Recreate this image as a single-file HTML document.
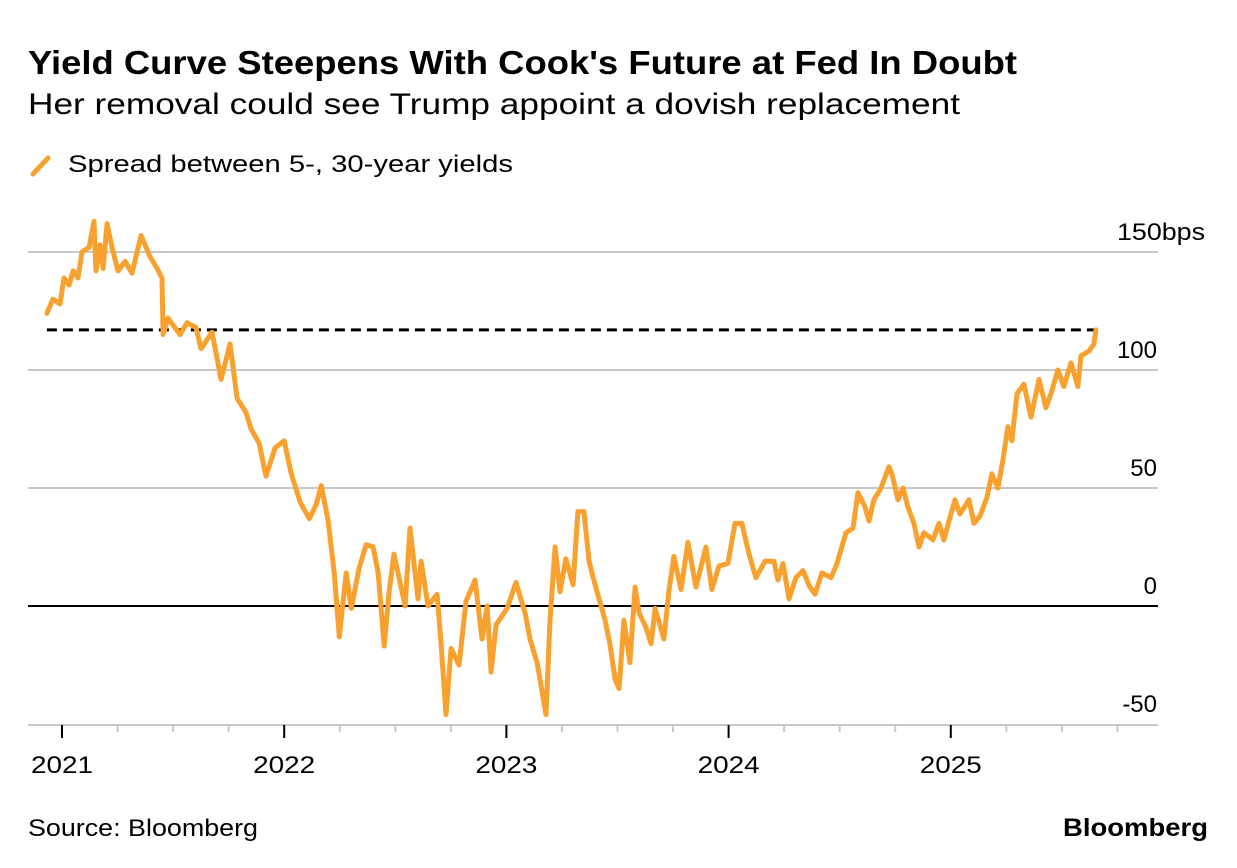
<!DOCTYPE html>
<html><head><meta charset="utf-8">
<style>
body{margin:0;background:#fff;font-family:"Liberation Sans",sans-serif;}
#wrap{position:relative;width:1237px;height:868px;overflow:hidden;}
</style></head>
<body>
<div id="wrap">
<svg id="chart" width="1237" height="868" xmlns="http://www.w3.org/2000/svg">
  <text x="28" y="74" font-size="33" font-weight="bold" fill="#000" textLength="989" lengthAdjust="spacingAndGlyphs">Yield Curve Steepens With Cook's Future at Fed In Doubt</text>
  <text x="28" y="114" font-size="30" fill="#000" textLength="932" lengthAdjust="spacingAndGlyphs">Her removal could see Trump appoint a dovish replacement</text>
  <line x1="33" y1="174" x2="48" y2="158" stroke="#f9a12e" stroke-width="5" stroke-linecap="round"/>
  <text x="68" y="172" font-size="24" fill="#000" textLength="445" lengthAdjust="spacingAndGlyphs">Spread between 5-, 30-year yields</text>
  <g id="grid"></g>
  <g id="axes"></g>
  <g id="series"></g>
  <text x="28" y="836" font-size="24" fill="#000" textLength="230" lengthAdjust="spacingAndGlyphs">Source: Bloomberg</text>
  <text x="1063" y="836" font-size="25" font-weight="bold" fill="#000" textLength="145" lengthAdjust="spacingAndGlyphs">Bloomberg</text>
</svg>
</div>
<script>
const yTicks = [150, 100, 50, 0, -50];
const yTickLabels = ["150bps", "100", "50", "0", "-50"];
const xYears = [2021, 2022, 2023, 2024, 2025];
const refLevel = 117;
const dates = [2020.932,2020.959,2020.991,2021.009,2021.032,2021.050,2021.072,2021.090,2021.122,2021.144,2021.153,2021.171,2021.185,2021.203,2021.225,2021.252,2021.284,2021.315,2021.356,2021.396,2021.428,2021.450,2021.455,2021.477,2021.531,2021.563,2021.603,2021.626,2021.675,2021.716,2021.756,2021.788,2021.828,2021.851,2021.887,2021.918,2021.959,2022.000,2022.032,2022.072,2022.113,2022.144,2022.167,2022.198,2022.225,2022.248,2022.279,2022.302,2022.337,2022.369,2022.400,2022.423,2022.450,2022.472,2022.494,2022.544,2022.566,2022.602,2022.616,2022.647,2022.688,2022.706,2022.728,2022.751,2022.787,2022.818,2022.859,2022.890,2022.913,2022.931,2022.953,2023.003,2023.043,2023.084,2023.106,2023.138,2023.178,2023.196,2023.219,2023.241,2023.268,2023.300,2023.322,2023.349,2023.372,2023.385,2023.417,2023.444,2023.466,2023.489,2023.507,2023.529,2023.556,2023.579,2023.597,2023.628,2023.651,2023.669,2023.709,2023.732,2023.754,2023.786,2023.817,2023.853,2023.898,2023.925,2023.957,2023.997,2024.029,2024.060,2024.092,2024.123,2024.164,2024.204,2024.222,2024.245,2024.272,2024.303,2024.335,2024.366,2024.389,2024.420,2024.461,2024.488,2024.528,2024.560,2024.582,2024.614,2024.632,2024.654,2024.686,2024.722,2024.735,2024.762,2024.785,2024.807,2024.834,2024.857,2024.879,2024.920,2024.947,2024.969,2024.992,2025.019,2025.041,2025.082,2025.104,2025.131,2025.163,2025.185,2025.212,2025.235,2025.257,2025.275,2025.298,2025.329,2025.361,2025.397,2025.428,2025.451,2025.482,2025.509,2025.541,2025.572,2025.586,2025.622,2025.644,2025.653];
const spread = [124,130,128,139,136,142,139,150,152,163,142,153,143,162,152,142,146,141,157,148,143,139,115,122,115,120,118,109,116,96,111,88,82,75,69,55,67,70,56,44,37,43,51,36,14,-13,14,-1,16,26,25,14,-17,6,22,0,33,3,19,0,5,-16,-46,-18,-25,2,11,-14,0,-28,-8,-1,10,-3,-14,-24,-46,-6,25,6,20,9,40,40,19,14,3,-6,-16,-31,-35,-6,-24,8,-3,-9,-16,-1,-14,7,21,7,27,8,25,7,17,18,35,35,22,12,19,19,11,18,3,12,15,8,5,14,12,18,31,33,48,42,36,45,50,59,56,45,50,42,35,25,31,28,35,28,36,45,39,45,35,38,46,56,50,62,76,70,90,94,80,96,84,90,100,93,103,93,106,108,111,117];

const NS = "http://www.w3.org/2000/svg";
const X0 = 62, PXY = 222.2, Y0 = 606, PXB = 2.36;
function xScale(t){ return X0 + (t - 2021) * PXY; }
function yScale(v){ return Y0 - v * PXB; }
function mk(tag, attrs, parent){
  const e = document.createElementNS(NS, tag);
  for (const k in attrs) e.setAttribute(k, attrs[k]);
  parent.appendChild(e);
  return e;
}
const grid = document.getElementById('grid');
const axes = document.getElementById('axes');
const series = document.getElementById('series');

yTicks.forEach((v, i) => {
  if (v !== 0 && v !== -50) {
    const gl = mk('line', {x1: 28, x2: 1158, y1: yScale(v), y2: yScale(v), stroke: '#c8c8c8', 'stroke-width': 2}, grid);
    
    
  }
  const lab = mk('text', {x: 1157, y: yScale(v) - 12, 'font-size': 24, fill: '#000', 'text-anchor': 'end'}, axes);
  if (v === 150) { lab.setAttribute('x', 1117); lab.setAttribute('text-anchor', 'start'); lab.setAttribute('textLength', 88); lab.setAttribute('lengthAdjust', 'spacingAndGlyphs'); }
  lab.textContent = yTickLabels[i];
  
  
});

const zl = mk('line', {x1: 28, x2: 1158, y1: yScale(0), y2: yScale(0), stroke: '#000', 'stroke-width': 2}, grid);



const xa = mk('line', {x1: 28, x2: 1158, y1: 725, y2: 725, stroke: '#c8c8c8', 'stroke-width': 2}, axes);



for (let q = 2020.75; q <= 2025.76; q += 0.25) {
  const isYear = Math.abs(q - Math.round(q)) < 1e-6;
  const tx = xScale(q);
  if (tx < 28 || tx > 1158) continue;
  const tk = mk('line', {x1: tx, x2: tx, y1: 725, y2: isYear ? 738 : 732, stroke: isYear ? '#000' : '#c8c8c8', 'stroke-width': 2}, axes);
  
  
}
xYears.forEach(yr => {
  const t = mk('text', {x: xScale(yr) - 31, y: 773, 'font-size': 24, fill: '#000', textLength: 62, lengthAdjust: 'spacingAndGlyphs'}, axes);
  t.textContent = String(yr);
  
  
});

const ref = mk('line', {x1: xScale(dates[0]), x2: xScale(dates[dates.length - 1]), y1: yScale(refLevel), y2: yScale(refLevel), stroke: '#000', 'stroke-width': 3, 'stroke-dasharray': '10 6'}, series);



let d = '';
dates.forEach((t, i) => { d += (i ? 'L' : 'M') + xScale(t).toFixed(1) + ',' + yScale(spread[i]).toFixed(1); });
const path = mk('path', {d: d, fill: 'none', stroke: '#f9a12e', 'stroke-width': 5, 'stroke-linejoin': 'round', 'stroke-linecap': 'round'}, series);


</script>
</body></html>
